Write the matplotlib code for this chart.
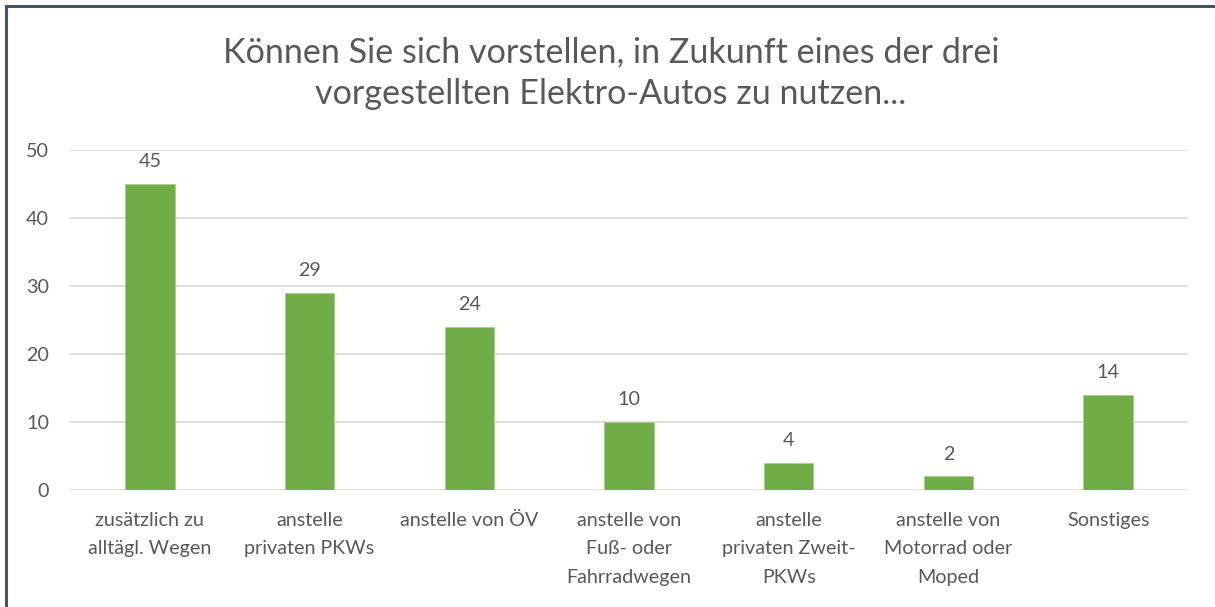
import matplotlib
matplotlib.use("Agg")
import matplotlib.pyplot as plt
from matplotlib.lines import Line2D

categories = [
    "zusätzlich zu\nalltägl. Wegen",
    "anstelle\nprivaten PKWs",
    "anstelle von ÖV",
    "anstelle von\nFuß- oder\nFahrradwegen",
    "anstelle\nprivaten Zweit-\nPKWs",
    "anstelle von\nMotorrad oder\nMoped",
    "Sonstiges",
]
values = [45, 29, 24, 10, 4, 2, 14]
yticks = [0, 10, 20, 30, 40, 50]
title = "Können Sie sich vorstellen, in Zukunft eines der drei\nvorgestellten Elektro-Autos zu nutzen..."

plt.rcParams['font.family'] = ['Lato', 'DejaVu Sans']
TEXT = "#595959"
GREEN = "#70AD47"
GRID = "#D9D9D9"

fig = plt.figure(figsize=(12.15, 6.07), dpi=100)
ax = fig.add_axes([70/1215, 1-490/607, (1188-70)/1215, (490-150)/607])

x = list(range(len(categories)))
ax.bar(x, values, width=0.31, color=GREEN, edgecolor="#A9D18E", linewidth=0.6, zorder=3)
for xi, v in zip(x, values):
    ax.annotate(str(v), (xi, v), xytext=(0, 10), textcoords="offset points",
                ha="center", va="bottom", fontsize=14.2, color=TEXT)

ax.set_xlim(-0.5, len(categories) - 0.5)
ax.set_ylim(0, 50)
ax.set_yticks(yticks)
ax.set_yticklabels([str(t) for t in yticks], fontsize=14.2, color=TEXT)
ax.set_xticks(x)
ax.set_xticklabels(categories, fontsize=14.2, color=TEXT, linespacing=1.8, va="top")
ax.tick_params(axis="both", length=0)
ax.tick_params(axis="y", pad=15)
ax.tick_params(axis="x", pad=16)
ax.grid(axis="y", color=GRID, linewidth=1.2, zorder=0)
for s in ax.spines.values():
    s.set_visible(False)

fig.text(611/1215, 1-73/607, title, ha="center", va="center", fontsize=24.6,
         color=TEXT, linespacing=1.4)

# chart border (top and left edges visible)
fig.add_artist(Line2D([6/1215, 1214/1215], [1-6/607, 1-6/607], color="#44546A", linewidth=2.2, transform=fig.transFigure))
fig.add_artist(Line2D([6/1215, 6/1215], [1-6/607, 0], color="#44546A", linewidth=2.2, transform=fig.transFigure))

fig.savefig("out.png", dpi=100)
